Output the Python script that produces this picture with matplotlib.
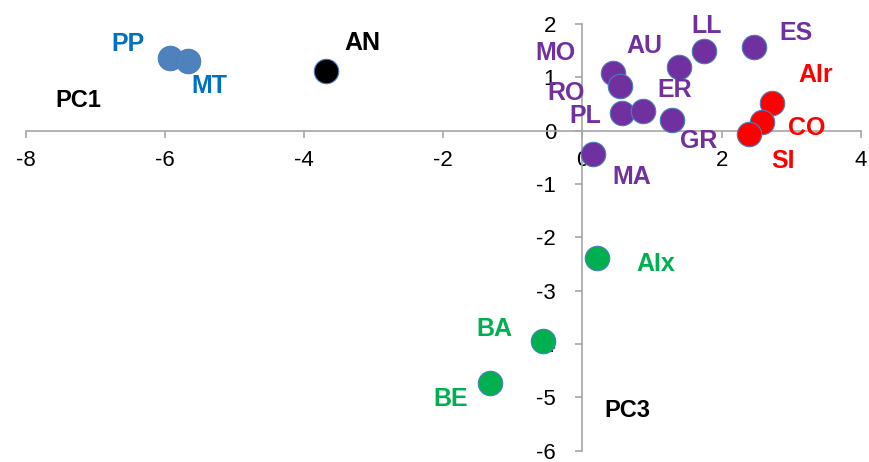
import matplotlib

matplotlib.use("Agg")
import matplotlib.pyplot as plt

# PCA scores (PC1 on x, PC3 on y) for each sample
names = ["PP", "MT", "AN", "MO", "RO", "PL", "ER", "GR", "AU", "LL", "ES",
         "AIr", "CO", "SI", "MA", "AIx", "BA", "BE"]
pc1 = [-5.93, -5.67, -3.68, 0.44, 0.54, 0.57, 0.87, 1.28, 1.39, 1.75, 2.46,
       2.73, 2.58, 2.39, 0.15, 0.21, -0.57, -1.33]
pc3 = [1.37, 1.31, 1.11, 1.09, 0.83, 0.34, 0.36, 0.20, 1.20, 1.50, 1.56,
       0.51, 0.16, -0.06, -0.44, -2.38, -3.94, -4.74]
groups = ["blue", "blue", "black", "purple", "purple", "purple", "purple", "purple",
          "purple", "purple", "purple", "red", "red", "red", "purple",
          "green", "green", "green"]

MARKER_COLORS = {"blue": "#4F81BD", "black": "#000000", "purple": "#7030A0",
                 "red": "#FF0000", "green": "#00B050"}
LABEL_COLORS = {"blue": "#0070C0", "black": "#000000", "purple": "#7030A0",
                "red": "#FF0000", "green": "#00B050"}
# label offsets in pixels from each marker
OFFSETS = {"PP": (-42, 14), "MT": (22, -25), "AN": (36, 28), "MO": (-58, 20),
           "RO": (-54, -7), "PL": (-37, -3), "ER": (32, 21), "GR": (27, -21),
           "AU": (-35, 21), "LL": (2, 25), "ES": (42, 14), "AIr": (43, 28),
           "CO": (45, -6), "SI": (34, -27), "MA": (39, -23), "AIx": (59, -6),
           "BA": (-48, 12), "BE": (-39, -16)}

plt.rcParams["font.family"] = ["Liberation Sans", "DejaVu Sans"]
plt.rcParams["axes.unicode_minus"] = False
fig = plt.figure(figsize=(8.70, 4.62), dpi=100, facecolor="white")
ax = fig.add_axes([0.0295, 0.0245, 0.96, 0.9235])
ax.set_xlim(-8, 4)
ax.set_ylim(-6, 2)

for spine in ("top", "right"):
    ax.spines[spine].set_visible(False)
for spine in ("left", "bottom"):
    ax.spines[spine].set_position(("data", 0))
    ax.spines[spine].set_color("#A6A6A6")
    ax.spines[spine].set_linewidth(1.2)

ax.set_xticks(range(-8, 5, 2))
ax.set_yticks(range(-6, 3))
ax.tick_params(axis="both", direction="out", length=5, width=1.2, color="#A6A6A6",
               labelsize=16, labelcolor="#000000")
ax.tick_params(axis="x", pad=9)
ax.tick_params(axis="y", pad=14)

for x, y, group in zip(pc1, pc3, groups):
    ax.scatter(x, y, s=310, color=MARKER_COLORS[group], edgecolor="#4A7EBB",
               linewidth=0.8, zorder=3)

for name, x, y, group in zip(names, pc1, pc3, groups):
    ax.annotate(name, (x, y), xytext=OFFSETS[name], textcoords="offset pixels",
                ha="center", va="center", fontsize=18, fontweight="bold",
                color=LABEL_COLORS[group], zorder=4)

ax.text(-7.25, 0.56, "PC1", ha="center", va="center", fontsize=17,
        fontweight="bold", color="#000000")
ax.text(0.65, -5.25, "PC3", ha="center", va="center", fontsize=17,
        fontweight="bold", color="#000000")

fig.savefig("out.png", dpi=100, facecolor="white")
